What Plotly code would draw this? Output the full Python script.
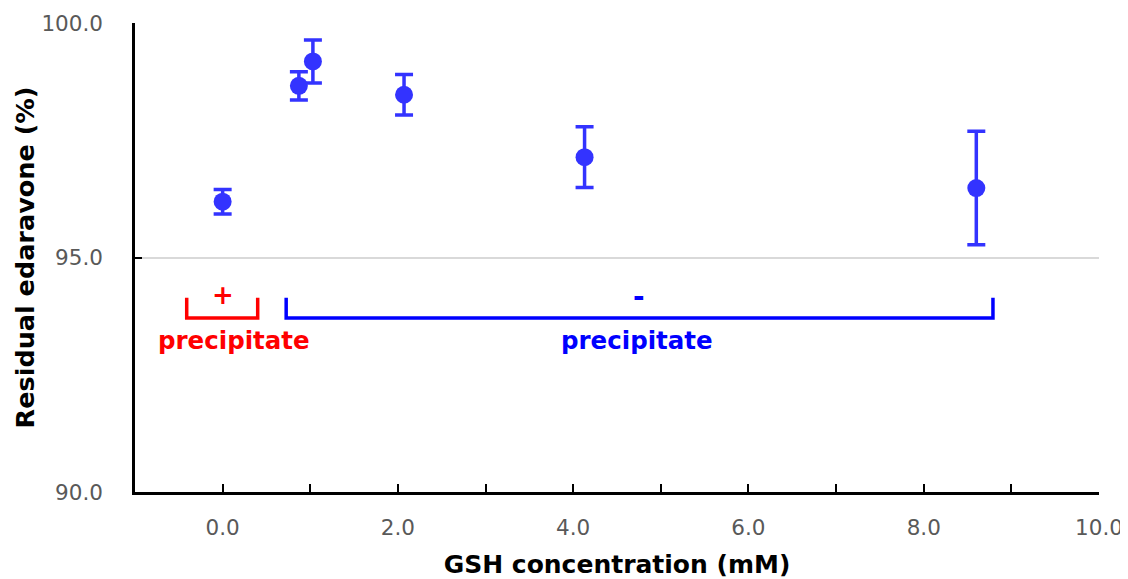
import plotly.graph_objects as go

# Data
gsh_mM = [0.0, 0.87, 1.03, 2.07, 4.13, 8.60]
residual_pct = [96.19, 98.66, 99.18, 98.47, 97.14, 96.48]
err_pct = [0.26, 0.30, 0.46, 0.43, 0.65, 1.21]

x_title = "GSH concentration (mM)"
y_title = "Residual edaravone (%)"
label_pos = "precipitate"
label_neg = "precipitate"

POINT_COLOR = "#3333FF"
RED = "#FF0000"
BLUE = "#0000FF"
FONT = "DejaVu Sans"

fig = go.Figure()
fig.add_trace(go.Scatter(
    x=gsh_mM, y=residual_pct, mode="markers",
    marker=dict(color=POINT_COLOR, size=18, line=dict(width=0)),
    error_y=dict(type="data", array=err_pct, symmetric=True,
                 color=POINT_COLOR, thickness=3.5, width=9),
    showlegend=False,
))

# Brackets (layout decorations)
fig.add_shape(type="path", xref="x", yref="y",
              path="M -0.41,94.14 L -0.41,93.71 L 0.40,93.71 L 0.40,94.14",
              line=dict(color=RED, width=3.5))
fig.add_shape(type="path", xref="x", yref="y",
              path="M 0.725,94.14 L 0.725,93.71 L 8.79,93.71 L 8.79,94.14",
              line=dict(color=BLUE, width=3.5))

fig.add_annotation(x=0.0, y=94.2, xref="x", yref="y", text="<b>+</b>",
                   showarrow=False, font=dict(family=FONT, size=26, color=RED))
fig.add_annotation(x=4.75, y=94.17, xref="x", yref="y", text="<b>-</b>",
                   showarrow=False, font=dict(family=FONT, size=28, color=BLUE))
fig.add_annotation(x=0.13, y=93.24, xref="x", yref="y", text="<b>" + label_pos + "</b>",
                   showarrow=False, font=dict(family=FONT, size=24.5, color=RED))
fig.add_annotation(x=4.73, y=93.24, xref="x", yref="y", text="<b>" + label_neg + "</b>",
                   showarrow=False, font=dict(family=FONT, size=24.5, color=BLUE))

# The page places the figure 8 px from the top-left corner of the window
fig.update_layout(
    width=1120, height=571,
    margin=dict(l=127, r=29, t=15, b=87),
    paper_bgcolor="white", plot_bgcolor="white",
    font=dict(family=FONT),
)
fig.update_xaxes(
    range=[-1, 10], tick0=0, dtick=2, tickformat=".1f",
    automargin=False,
    showgrid=False, zeroline=False,
    showline=True, linecolor="black", linewidth=2.5,
    ticks="inside", ticklen=8, tickwidth=2, tickcolor="black",
    minor=dict(dtick=1, tick0=0, ticks="inside", ticklen=8, tickwidth=2,
               tickcolor="black", showgrid=False),
    tickfont=dict(family=FONT, size=21.5, color="#595959"),
    ticklabelstandoff=14,
    title=dict(text="<b>" + x_title + "</b>", standoff=22,
               font=dict(family=FONT, size=25, color="black")),
)
fig.update_yaxes(
    range=[90, 100], tick0=90, dtick=5, tickformat=".1f",
    automargin=False,
    showgrid=True, gridcolor="#D9D9D9", gridwidth=1.5, zeroline=False,
    showline=True, linecolor="black", linewidth=2.5,
    ticks="inside", ticklen=7, tickwidth=2, tickcolor="black",
    tickfont=dict(family=FONT, size=21.5, color="#595959"),
    ticklabelstandoff=25,
    title=dict(text="<b>" + y_title + "</b>", standoff=0,
               font=dict(family=FONT, size=25.5, color="black")),
)

fig.write_html("out.html")
